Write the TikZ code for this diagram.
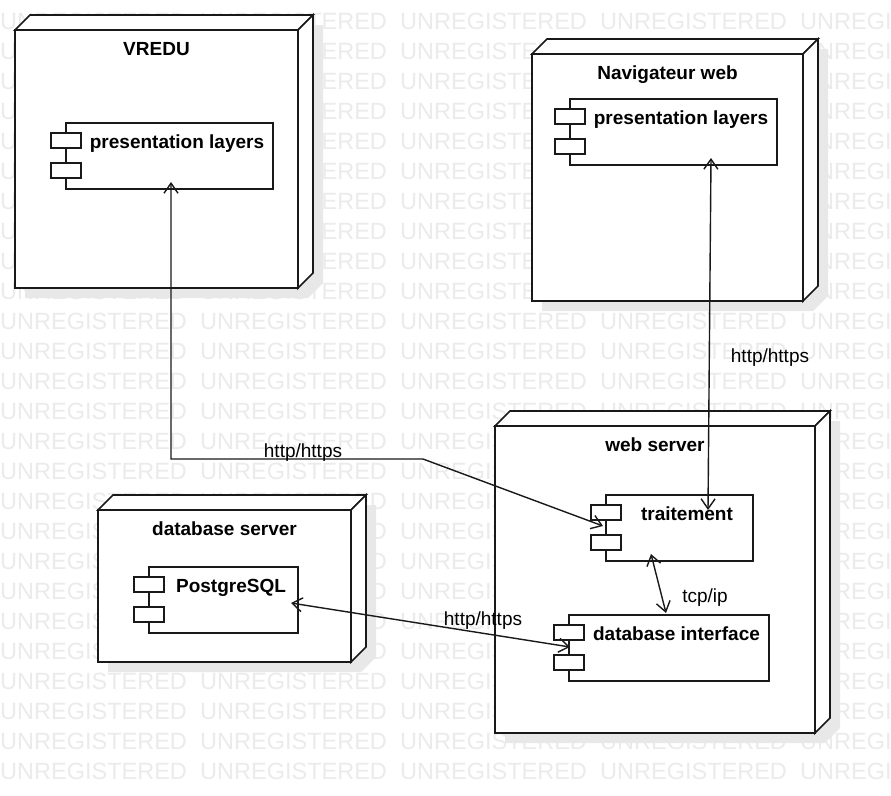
\documentclass[tikz,border=0pt]{standalone}
\usepackage{fontspec}
\setmainfont{Liberation Sans}
\usetikzlibrary{arrows.meta,calc}
\definecolor{wm}{HTML}{EBEBEB}
\definecolor{shd}{HTML}{E8E8E8}
\pgfdeclarelayer{wml}
\pgfdeclarelayer{bg}
\pgfsetlayers{wml,bg,main}
\tikzset{
  nodeface/.style={draw=black!90, line width=1.7pt, fill=white, line join=miter},
  compbox/.style={draw=black!90, line width=1.5pt, fill=white, rectangle, inner sep=0pt, outer sep=0pt},
  lbl/.style={font=\fontsize{19}{22}\selectfont, inner sep=0pt, anchor=base},
  ttl/.style={font=\bfseries\fontsize{19}{22}\selectfont, inner sep=0pt, anchor=base},
  conn/.style={line width=1.4pt, draw=black!90, {Straight Barb[length=10pt,width=14pt]}-{Straight Barb[length=10pt,width=14pt]}},
  wmtext/.style={font=\fontsize{23.5}{26}\selectfont, text=wm, inner sep=0pt, anchor=base west},
}
% 3D deployment node: name, x0, y0 (back top), x1 (back right), y1 (front bottom), title, title baseline
\newcommand\depnode[7]{%
  \node[nodeface, rectangle, inner sep=0pt, outer sep=0pt,
        minimum width={#4-15-#2}, minimum height={#5-#3-15}]
        (#1) at ({(#2+#4-15)/2},{(#3+15+#5)/2}) {};
  \draw[nodeface] (#1.north west) -- ++(15,-15) -- ($(#1.north east)+(15,-15)$) -- (#1.north east) -- cycle;
  \draw[nodeface] (#1.north east) -- ++(15,-15) -- ($(#1.south east)+(15,-15)$) -- (#1.south east) -- cycle;
  \begin{pgfonlayer}{bg}
    \fill[shd] ($(#1.north west)+(10,10)$) -- ++(15,-15) -- ($(#1.north east)+(25,-5)$)
      -- ($(#1.south east)+(25,-5)$) -- ($(#1.south east)+(10,10)$) -- ($(#1.south west)+(10,10)$) -- cycle;
  \end{pgfonlayer}
  \node[ttl] (#1-title) at ({(#2+#4-15)/2},#7) {#6};
}
% component: name, x0, y0, x1, y1, text
\newcommand\compo[6]{%
  \node[compbox, minimum width={#4-#2}, minimum height={#5-#3}] (#1) at ({(#2+#4)/2},{(#3+#5)/2}) {};
  \begin{pgfonlayer}{bg}
    \fill[shd] ($(#1.south west)+(10,10)$) rectangle ($(#1.north east)+(10,10)$);
  \end{pgfonlayer}
  \node[compbox, minimum width=30pt, minimum height=15pt] (#1-pa) at (#2,#3+17.5) {};
  \node[compbox, minimum width=30pt, minimum height=15pt] (#1-pb) at (#2,#3+47.5) {};
  \node[ttl] (#1-text) at ({(#2+15+#4)/2},#3+25) {#6};
}
\begin{document}
\begin{tikzpicture}[x=1pt,y=-1pt]
  \useasboundingbox (0,0) rectangle (891,795);
  % background and watermark
  \begin{pgfonlayer}{wml}
    \fill[white] (0,0) rectangle (891,795);
    \foreach \r in {0,...,25}{
      \foreach \c in {0,200,400,600,800}{
        \node[wmtext] (wm-\r-\c) at (\c,{29+30*\r}) {UNREGISTERED};
      }
    }
  \end{pgfonlayer}

  % deployment nodes
  \depnode{vredu}{15}{15}{313}{288}{VREDU}{55}
  \depnode{nav}{532}{39}{818}{301}{Navigateur web}{79}
  \depnode{dbs}{98}{495}{366}{662}{database server}{535}
  \depnode{web}{495}{411}{830}{733}{web server}{451}

  % components
  \compo{vpl}{66}{123}{273}{189}{presentation layers}
  \compo{npl}{570}{99}{777}{165}{presentation layers}
  \compo{trt}{606}{495}{753}{561}{traitement}
  \compo{dbi}{569}{615}{769}{681}{database interface}
  \compo{pg}{149}{567}{298}{633}{PostgreSQL}

  % connector end points
  \coordinate (c1a) at (171,182);
  \coordinate (c1b) at (171,459);
  \coordinate (c1c) at (423,459);
  \coordinate (c1d) at (603,526);
  \coordinate (c2a) at (711,158);
  \coordinate (c2b) at (708,510);
  \coordinate (c3a) at (651,554);
  \coordinate (c3b) at (666,613);
  \coordinate (c4a) at (291,603);
  \coordinate (c4b) at (570,647);

  \draw[conn] (c1a) -- (c1b) -- (c1c) -- (c1d);
  \draw[conn] (c2a) -- (c2b);
  \draw[conn] (c3a) -- (c3b);
  \draw[conn] (c4a) -- (c4b);

  % connector labels
  \node[lbl] (l1) at (303,457) {http/https};
  \node[lbl] (l2) at (770,362) {http/https};
  \node[lbl] (l3) at (705,602) {tcp/ip};
  \node[lbl] (l4) at (483,625) {http/https};
\end{tikzpicture}
\end{document}
